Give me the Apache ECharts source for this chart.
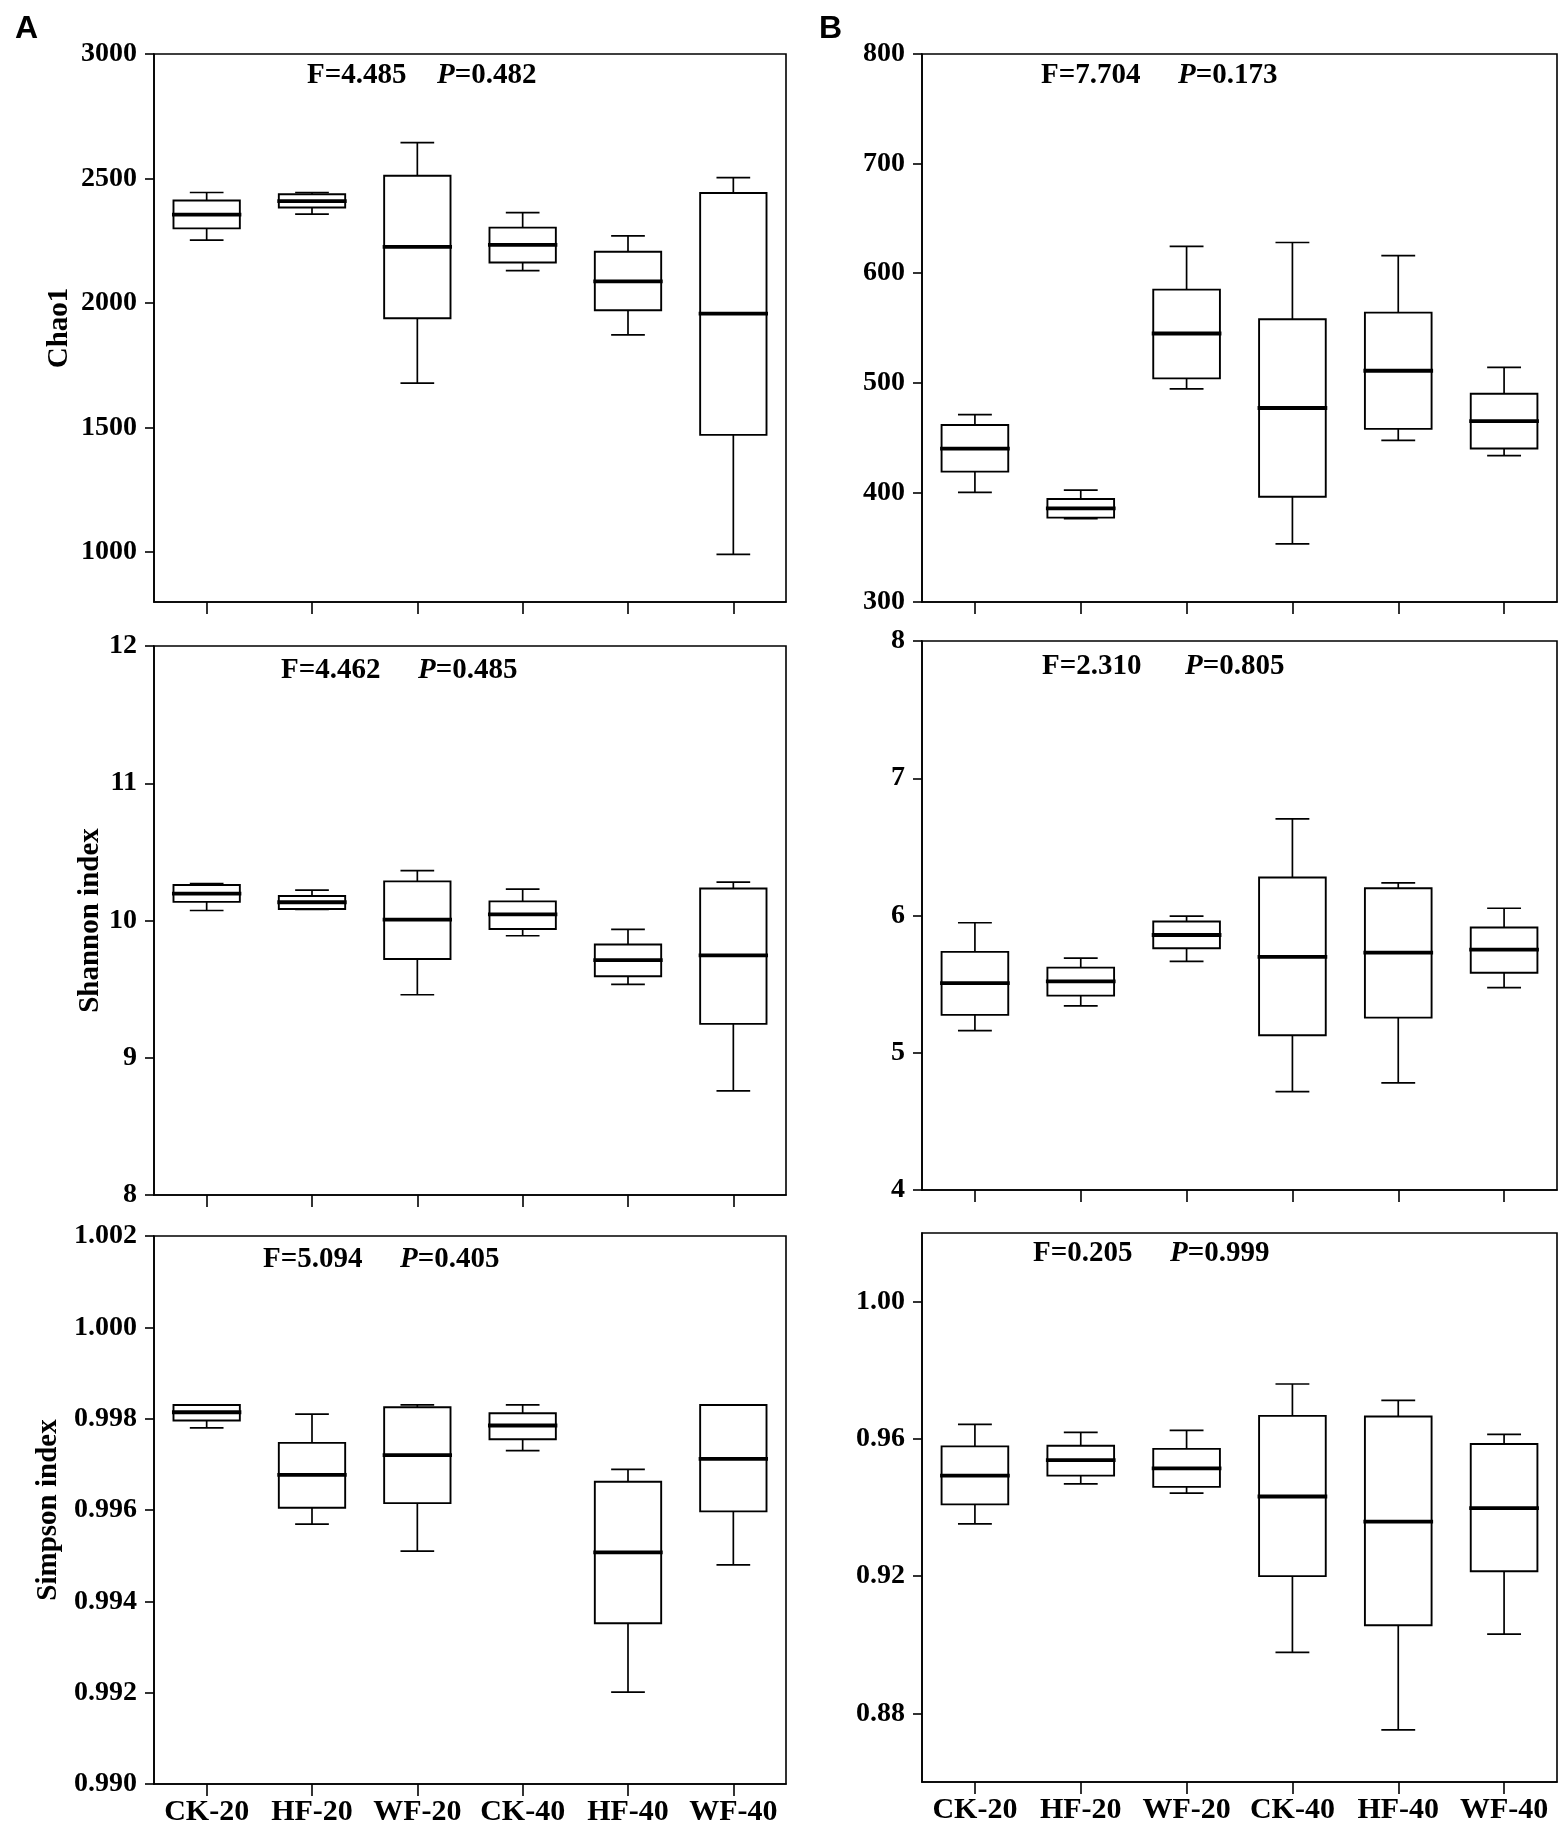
<!DOCTYPE html>
<html>
<head>
<meta charset="utf-8">
<script src="https://cdn.jsdelivr.net/npm/echarts@6/dist/echarts.min.js"></script>
<style>
html,body{margin:0;padding:0;background:#fff;}
#chart{width:1562px;height:1829px;}
</style>
</head>
<body>
<div id="chart"></div>
<script>
const categories = ['CK-20', 'HF-20', 'WF-20', 'CK-40', 'HF-40', 'WF-40'];

// each group: [min, Q1, median, Q3, max]
const chao1A = [[2253, 2300, 2355, 2412, 2444], [2357, 2384, 2409, 2437, 2444], [1679, 1939, 2226, 2511, 2644], [2130, 2163, 2234, 2303, 2363], [1872, 1971, 2087, 2206, 2270], [991, 1471, 1958, 2442, 2504]];
const chao1B = [[400, 419, 440, 461.5, 471], [376, 377, 385.4, 394, 402], [494.5, 504, 545, 585, 624.5], [353, 396, 477, 558, 628], [447.5, 458, 511, 564, 616], [433.5, 440, 465, 490, 514]];
const shannonA = [[10.073, 10.136, 10.196, 10.259, 10.268], [10.081, 10.084, 10.133, 10.179, 10.222], [9.459, 9.720, 10.007, 10.285, 10.363], [9.889, 9.938, 10.044, 10.139, 10.228], [9.534, 9.594, 9.711, 9.825, 9.935], [8.759, 9.247, 9.746, 10.233, 10.279]];
const shannonB = [[5.161, 5.276, 5.508, 5.735, 5.947], [5.342, 5.416, 5.520, 5.620, 5.689], [5.666, 5.761, 5.858, 5.956, 5.996], [4.717, 5.127, 5.698, 6.277, 6.704], [4.780, 5.256, 5.729, 6.199, 6.237], [5.474, 5.583, 5.752, 5.913, 6.053]];
const simpsonA = [[0.99780, 0.99796, 0.99814, 0.99830, 0.99830], [0.99569, 0.99605, 0.99677, 0.99747, 0.99810], [0.99510, 0.99615, 0.99720, 0.99825, 0.99830], [0.99730, 0.99755, 0.99785, 0.99812, 0.99830], [0.99201, 0.99352, 0.99507, 0.99662, 0.99689], [0.99480, 0.99597, 0.99712, 0.99830, 0.99830]];
const simpsonB = [[0.9352, 0.9409, 0.9493, 0.9578, 0.9642], [0.9469, 0.9493, 0.9538, 0.9580, 0.9619], [0.9442, 0.9460, 0.9514, 0.9571, 0.9625], [0.8978, 0.9200, 0.9432, 0.9667, 0.9760], [0.8752, 0.9057, 0.9359, 0.9665, 0.9712], [0.9031, 0.9214, 0.9398, 0.9585, 0.9613]];

// tick labels
const chao1ATicks = [1000, 1500, 2000, 2500, 3000];
const chao1BTicks = [300, 400, 500, 600, 700, 800];
const shannonATicks = [8, 9, 10, 11, 12];
const shannonBTicks = [4, 5, 6, 7, 8];
const simpsonATicks = [0.990, 0.992, 0.994, 0.996, 0.998, 1.000, 1.002];
const simpsonBTicks = [0.88, 0.92, 0.96, 1.00];

// statistics text
const statF = ['4.485', '7.704', '4.462', '2.310', '5.094', '0.205'];
const statP = ['0.482', '0.173', '0.485', '0.805', '0.405', '0.999'];
const axisNames = ['Chao1', '', 'Shannon index', '', 'Simpson index', ''];
const panelLetters = ['A', 'B'];

const SERIF = "'Liberation Serif', 'Times New Roman', serif";

const panels = [
  {data: chao1A, ticks: chao1ATicks, min: 800, max: 3000, dec: 0,
   grid: {left: 154, top: 54, width: 632, height: 548}, nameGap: 80, fx: 307, px: 437, sy: 76},
  {data: chao1B, ticks: chao1BTicks, min: 300, max: 800, dec: 0,
   grid: {left: 922, top: 54, width: 635, height: 548}, nameGap: 0, fx: 1041, px: 1178, sy: 76},
  {data: shannonA, ticks: shannonATicks, min: 8, max: 12, dec: 0,
   grid: {left: 154, top: 646, width: 632, height: 549}, nameGap: 49, fx: 281, px: 418, sy: 671},
  {data: shannonB, ticks: shannonBTicks, min: 4, max: 8, dec: 0,
   grid: {left: 922, top: 641, width: 635, height: 549}, nameGap: 0, fx: 1042, px: 1185, sy: 667},
  {data: simpsonA, ticks: simpsonATicks, min: 0.990, max: 1.002, dec: 3,
   grid: {left: 154, top: 1236, width: 632, height: 548}, nameGap: 91, fx: 263, px: 400, sy: 1260},
  {data: simpsonB, ticks: simpsonBTicks, min: 0.86, max: 1.02, dec: 2,
   grid: {left: 922, top: 1233, width: 635, height: 549}, nameGap: 0, fx: 1033, px: 1170, sy: 1254}
];

function renderBox(params, api) {
  const x = api.value(0);
  const lo = api.coord([x, api.value(1)]);
  const q1 = api.coord([x, api.value(2)]);
  const md = api.coord([x, api.value(3)]);
  const q3 = api.coord([x, api.value(4)]);
  const hi = api.coord([x, api.value(5)]);
  const band = api.size([1, 0])[0];
  const bw = band * 0.315, cw = band * 0.16, mw = bw + 1.5;
  const cx = lo[0];
  const thin = {stroke: '#000', lineWidth: 1.7};
  return {
    type: 'group',
    children: [
      {type: 'line', shape: {x1: cx, y1: hi[1], x2: cx, y2: q3[1]}, style: thin},
      {type: 'line', shape: {x1: cx, y1: q1[1], x2: cx, y2: lo[1]}, style: thin},
      {type: 'line', shape: {x1: cx - cw, y1: hi[1], x2: cx + cw, y2: hi[1]}, style: thin},
      {type: 'line', shape: {x1: cx - cw, y1: lo[1], x2: cx + cw, y2: lo[1]}, style: thin},
      {type: 'rect', shape: {x: cx - bw, y: q3[1], width: 2 * bw, height: q1[1] - q3[1]},
       style: {fill: '#fff', stroke: '#000', lineWidth: 1.9}},
      {type: 'line', shape: {x1: cx - mw, y1: md[1], x2: cx + mw, y2: md[1]},
       style: {stroke: '#000', lineWidth: 3.8}}
    ]
  };
}

const grids = [], xAxes = [], yAxes = [], series = [], titles = [];
panels.forEach((p, i) => {
  grids.push(Object.assign({show: true, borderColor: '#000', borderWidth: 1.6, backgroundColor: 'transparent'}, p.grid));
  const showLabels = i >= 4;
  xAxes.push({
    type: 'category', gridIndex: i, data: categories, boundaryGap: true,
    axisLine: {lineStyle: {color: '#000', width: 1.6}},
    axisTick: {show: true, alignWithLabel: true, interval: 0, length: 12, lineStyle: {color: '#000', width: 1.6}},
    axisLabel: {show: showLabels, interval: 0, margin: 13, color: '#000', fontFamily: SERIF, fontWeight: 'bold', fontSize: 30},
    splitLine: {show: false}
  });
  yAxes.push({
    type: 'value', gridIndex: i, min: p.min, max: p.max,
    name: axisNames[i], nameLocation: 'middle', nameRotate: 90, nameGap: p.nameGap,
    nameTextStyle: {color: '#000', fontFamily: SERIF, fontWeight: 'bold', fontSize: 29},
    axisLine: {show: true, lineStyle: {color: '#000', width: 1.6}},
    axisTick: {show: true, length: 9, customValues: p.ticks, lineStyle: {color: '#000', width: 1.6}},
    axisLabel: {customValues: p.ticks, margin: 17, color: '#000', fontFamily: SERIF, fontWeight: 'bold', fontSize: 28,
      formatter: (v) => Number(v).toFixed(p.dec)},
    splitLine: {show: false}
  });
  series.push({
    type: 'custom', xAxisIndex: i, yAxisIndex: i,
    renderItem: renderBox,
    encode: {x: 0, y: [1, 2, 3, 4, 5]},
    data: p.data.map((d, k) => [k].concat(d)),
    silent: true
  });
  titles.push({
    left: p.fx, top: p.sy - 15, padding: 0,
    text: 'F=' + statF[i],
    textStyle: {color: '#000', fontFamily: SERIF, fontWeight: 'bold', fontSize: 29, lineHeight: 30}
  });
  titles.push({
    left: p.px, top: p.sy - 15, padding: 0,
    text: '{i|P}{b|=' + statP[i] + '}',
    textStyle: {
      rich: {
        i: {color: '#000', fontFamily: SERIF, fontWeight: 'bold', fontStyle: 'italic', fontSize: 29, lineHeight: 30},
        b: {color: '#000', fontFamily: SERIF, fontWeight: 'bold', fontSize: 29, lineHeight: 30}
      }
    }
  });
});
titles.push({left: 15, top: 13, padding: 0, text: panelLetters[0],
  textStyle: {color: '#000', fontFamily: "'Liberation Sans', Arial, sans-serif", fontWeight: 'bold', fontSize: 32}});
titles.push({left: 819, top: 13, padding: 0, text: panelLetters[1],
  textStyle: {color: '#000', fontFamily: "'Liberation Sans', Arial, sans-serif", fontWeight: 'bold', fontSize: 32}});

const chart = echarts.init(document.getElementById('chart'), null, {renderer: 'canvas'});
chart.setOption({
  backgroundColor: '#fff',
  animation: false,
  title: titles,
  grid: grids,
  xAxis: xAxes,
  yAxis: yAxes,
  series: series
});
</script>
</body>
</html>
